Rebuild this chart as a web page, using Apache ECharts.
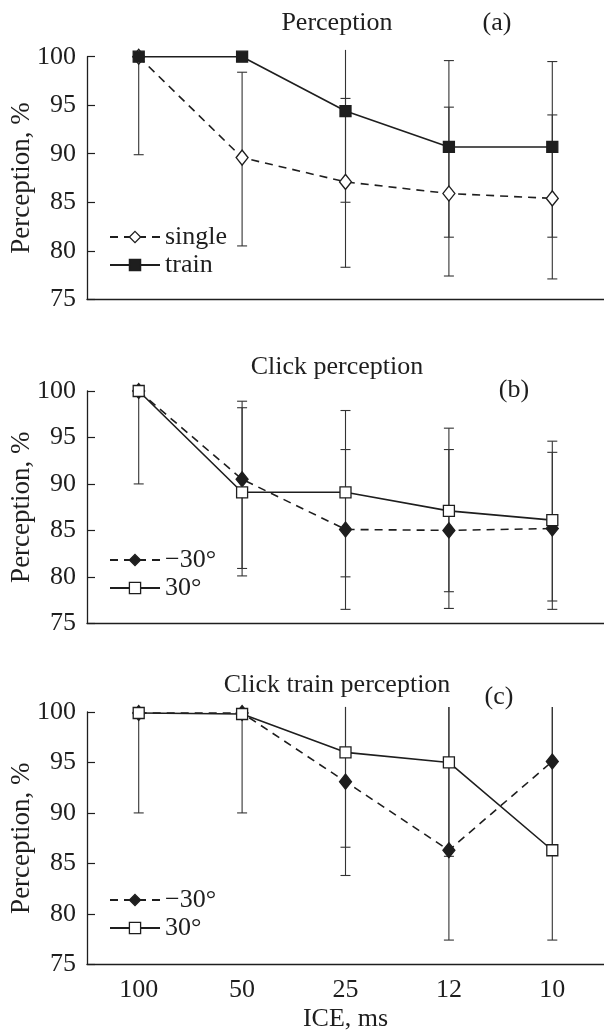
<!DOCTYPE html>
<html>
<head>
<meta charset="utf-8">
<script src="https://cdn.jsdelivr.net/npm/echarts@6/dist/echarts.min.js"></script>
<style>
  html, body { margin: 0; padding: 0; background: #fff; }
  #main { width: 604px; height: 1032px; }
</style>
</head>
<body>
<div id="main"></div>
<script>
var categories = ['100', '50', '25', '12', '10'];

// (a) Perception
var singleA = [100, 89.6, 87.1, 85.9, 85.4];
var trainA = [100, 100, 94.4, 90.7, 90.7];
var singleErrA = [[89.9, 100], [80.5, 98.4], [78.3, 95.7], [77.4, 94.8], [77.1, 94.0]];
var trainErrA = [null, null, [85.0, 100.7], [81.4, 99.6], [81.4, 99.5]];

// (b) Click perception
var minusB = [100, 90.5, 85.1, 85.0, 85.2];
var plusB = [100, 89.1, 89.1, 87.1, 86.1];
var minusErrB = [[90.0, 100], [80.9, 98.9], [76.5, 93.7], [76.6, 93.7], [76.5, 93.4]];
var plusErrB = [null, [80.1, 98.2], [80.0, 97.9], [78.4, 96.0], [77.4, 94.6]];

// (c) Click train perception
var minusC = [99.9, 99.9, 93.1, 86.3, 95.1];
var plusC = [99.9, 99.8, 96.0, 95.0, 86.3];
var minusErrC = [[90.0, 100], [90.0, 100], [83.8, 100.5], [77.4, 100.5], [86.0, 100.5]];
var plusErrC = [null, null, [86.6, 100.5], [85.7, 100.5], [77.4, 100.5]];

var FONT = 'Liberation Serif';
var INK = '#1e1e1e';

var myChart = echarts.init(document.getElementById('main'));

function errData(arr) {
  var out = [];
  arr.forEach(function (e, i) {
    if (e) out.push([i, e[0], e[1]]);
  });
  return out;
}

function errorBar(params, api) {
  var x = api.value(0);
  var lo = api.coord([x, api.value(1)]);
  var hi = api.coord([x, api.value(2)]);
  var w = 5;
  var st = { stroke: '#333', lineWidth: 1.1 };
  var kids = [
    { type: 'line', shape: { x1: lo[0], y1: lo[1], x2: hi[0], y2: hi[1] }, style: st },
    { type: 'line', shape: { x1: lo[0] - w, y1: lo[1], x2: lo[0] + w, y2: lo[1] }, style: st }
  ];
  // bars running past the top of the frame have no cap
  if (api.value(2) <= 100) {
    kids.push({ type: 'line', shape: { x1: hi[0] - w, y1: hi[1], x2: hi[0] + w, y2: hi[1] }, style: st });
  }
  return { type: 'group', children: kids };
}

var grids = [
  { left: 87, width: 517, top: 56.7, height: 242.6, outerBoundsMode: 'none' },
  { left: 87, width: 517, top: 391, height: 232.3, outerBoundsMode: 'none' },
  { left: 87, width: 517, top: 712, height: 252.3, outerBoundsMode: 'none' }
];

var xAxes = grids.map(function (g, i) {
  return {
    type: 'category',
    gridIndex: i,
    data: categories,
    boundaryGap: true,
    axisLine: { lineStyle: { color: INK, width: 1.3 } },
    axisTick: { inside: true, length: 8, lineStyle: { color: INK, width: 1.2 } },
    axisLabel: {
      show: i === 2, margin: 13,
      fontFamily: FONT, fontSize: 26, color: INK
    },
    name: i === 2 ? 'ICE, ms' : '',
    nameLocation: 'middle',
    nameGap: 42,
    nameMoveOverlap: false,
    nameTextStyle: { fontFamily: FONT, fontSize: 26, color: INK }
  };
});

var yAxes = grids.map(function (g, i) {
  return {
    type: 'value',
    gridIndex: i,
    min: 75, max: 100, interval: 5,
    axisLine: { show: true, lineStyle: { color: INK, width: 1.3 } },
    axisTick: { show: true, inside: true, length: 8, lineStyle: { color: INK, width: 1.2 } },
    axisLabel: { margin: 11, fontFamily: FONT, fontSize: 26, color: INK },
    splitLine: { show: false },
    name: 'Perception, %',
    nameLocation: 'middle',
    nameGap: 52,
    nameMoveOverlap: false,
    nameTextStyle: { fontFamily: FONT, fontSize: 27, color: INK }
  };
});

function lineSeries(name, idx, data, dashed, symbol, size, filled) {
  return {
    type: 'line',
    name: name,
    xAxisIndex: idx, yAxisIndex: idx,
    data: data,
    symbol: symbol,
    symbolSize: size,
    z: 5,
    lineStyle: { color: INK, width: 1.6, type: dashed ? [8, 6] : 'solid' },
    itemStyle: { color: filled ? INK : '#fff', borderColor: INK, borderWidth: 1.3 }
  };
}

function errSeries(idx, arr) {
  return {
    type: 'custom',
    name: 'err',
    xAxisIndex: idx, yAxisIndex: idx,
    clip: false,
    z: 2,
    renderItem: errorBar,
    encode: { x: 0, y: [1, 2] },
    data: errData(arr)
  };
}

var legendBase = {
  orient: 'vertical',
  left: 104,
  itemWidth: 50,
  itemHeight: 14,
  itemGap: 2,
  itemStyle: { borderWidth: 1.3 },
  textStyle: { fontFamily: FONT, fontSize: 26, color: INK, lineHeight: 14 }
};

function txt(text, x, y) {
  return {
    type: 'text', x: x, y: y,
    style: { text: text, fill: INK, font: '26px "' + FONT + '"', align: 'center', verticalAlign: 'middle' }
  };
}

option = {
  backgroundColor: '#fff',
  animation: false,
  grid: grids,
  xAxis: xAxes,
  yAxis: yAxes,
  legend: [
    Object.assign({}, legendBase, { top: 219, data: ['single', 'train'] }),
    Object.assign({}, legendBase, { top: 542, data: ['\u221230\u00b0', '30\u00b0'] }),
    Object.assign({}, legendBase, { top: 882, data: ['\u221230\u00b0', '30\u00b0'] })
  ],
  graphic: [
    txt('Perception', 337, 23),
    txt('(a)', 497, 23),
    txt('Click perception', 337, 367),
    txt('(b)', 514, 390),
    txt('Click train perception', 337, 685),
    txt('(c)', 499, 697)
  ],
  series: [
    errSeries(0, singleErrA),
    errSeries(0, trainErrA),
    lineSeries('single', 0, singleA, true, 'diamond', [12, 15], false),
    lineSeries('train', 0, trainA, false, 'rect', 11, true),

    errSeries(1, minusErrB),
    errSeries(1, plusErrB),
    lineSeries('\u221230\u00b0', 1, minusB, true, 'diamond', [12, 15], true),
    lineSeries('30\u00b0', 1, plusB, false, 'rect', 11, false),

    errSeries(2, minusErrC),
    errSeries(2, plusErrC),
    lineSeries('\u221230\u00b0', 2, minusC, true, 'diamond', [12, 15], true),
    lineSeries('30\u00b0', 2, plusC, false, 'rect', 11, false)
  ]
};

myChart.setOption(option);
</script>
</body>
</html>
